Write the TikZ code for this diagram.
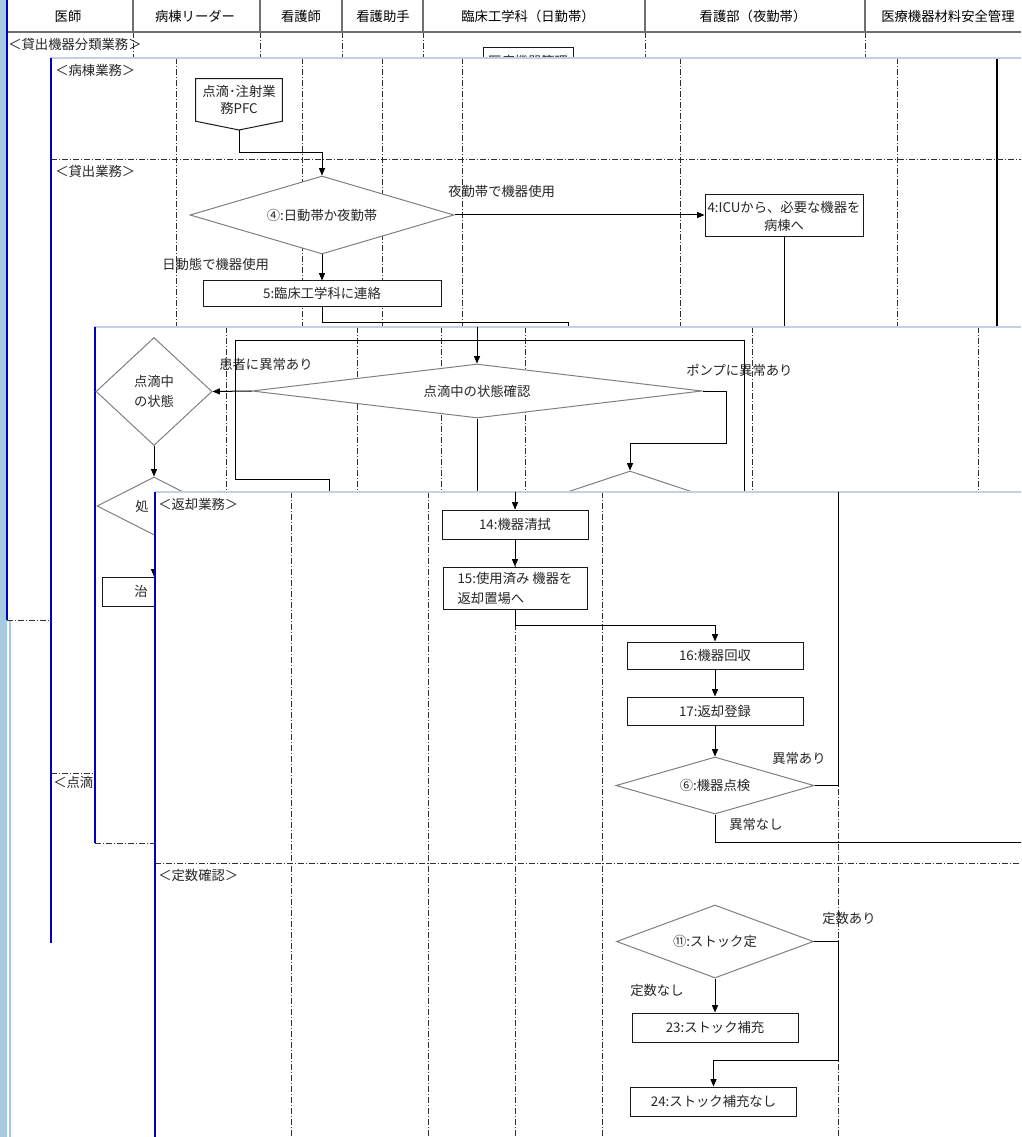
\documentclass[tikz,border=0pt]{standalone}
\usepackage{fontspec}
\setmainfont{Noto Sans CJK JP}
\usetikzlibrary{shapes.geometric,arrows.meta,calc}
\definecolor{txt}{HTML}{262626}
\definecolor{lanec}{HTML}{303030}
\definecolor{diac}{HTML}{808080}
\definecolor{boxc}{HTML}{1A1A1A}
\definecolor{wtopc}{HTML}{C4D0E4}
\definecolor{wblue}{HTML}{0000C0}
\definecolor{hdrc}{HTML}{707070}
\definecolor{lblue}{HTML}{A6CAE0}
\begin{document}
\begin{tikzpicture}[x=0.75pt,y=-0.75pt,
  font=\fontsize{10pt}{13.5pt}\selectfont,
  every node/.style={text=txt},
  lane/.style={draw=lanec, line width=0.75pt, dash pattern=on 4.5pt off 1.5pt on 0.75pt off 1.5pt},
  hdrsep/.style={draw=hdrc, line width=0.8pt},
  hdrline/.style={draw=hdrc, line width=1.6pt},
  wtop/.style={draw=wtopc, line width=0.8pt},
  wleft/.style={draw=wblue, line width=0.9pt},
  conn/.style={draw=black, line width=0.75pt},
  arr/.style={conn, -{Triangle[length=5.5pt,width=4.5pt]}},
  bx/.style 2 args={draw=boxc, fill=white, line width=0.75pt, inner sep=1pt, align=center,
    minimum width=#1*0.75pt, minimum height=#2*0.75pt},
  dia/.style n args={3}{diamond, draw=diac, fill=white, line width=0.75pt, inner sep=0pt, align=center,
    aspect=#3, minimum width=#1*0.75pt, minimum height=#2*0.75pt},
  lbl/.style={anchor=west, inner sep=0pt},
  hdr/.style={inner sep=0pt, text=black}
]
\useasboundingbox (0,0) rectangle (1021,1137);
\clip (0,0) rectangle (1021,1137);
\fill[white] (0,0) rectangle (1021,1137);
\fill[lblue] (0,0) rectangle (7,1137);
\fill[lblue] (9,620) rectangle (11,1137);

% ---------------- window 1 ----------------
\foreach \x in {133,260,342,423,645,865} {
  \draw[hdrsep] (\x,0) -- (\x,32);
  \draw[lane] (\x,32) -- (\x,620);
}
\draw[hdrline] (7,32) -- (1021,32);
\node[hdr] (h1) at (68,16) {医師};
\node[hdr] (h2) at (195,16) {病棟リーダー};
\node[hdr] (h3) at (301,16) {看護師};
\node[hdr] (h4) at (383,16) {看護助手};
\node[hdr] (h5) at (528,16) {臨床工学科（日勤帯）};
\node[hdr] (h6) at (753,16) {看護部（夜勤帯）};
\node[hdr, anchor=west] (h7) at (881,16) {医療機器材料安全管理};
\node[lbl] (w1lab) at (8,44) {＜貸出機器分類業務＞};
\node[bx={90}{26}] (mgmt) at (528,61) {医療機器管理};
\draw[wleft] (7,0) -- (7,620);
\draw[lane] (7,620) -- (50,620);

% ---------------- window 2 ----------------
\fill[white] (51,58) rectangle (1021,943);
\foreach \x in {176,302,382,462,680,897} \draw[lane] (\x,58) -- (\x,943);
\draw[conn, line width=1pt] (997,58) -- (997,943);
\draw[lane] (51,160) -- (1021,160);
\draw[lane] (51,773) -- (1021,773);
\draw[wtop] (50,58) -- (1021,58);
\draw[wleft] (51,58) -- (51,943);
\node[lbl] (w2lab1) at (55,70) {＜病棟業務＞};
\node[lbl] (w2lab2) at (55,171) {＜貸出業務＞};
\node[lbl] (w2lab3) at (53,782) {＜点滴};

\node[align=center, inner sep=0pt, minimum width=86*0.75pt, minimum height=42*0.75pt,
  font=\fontsize{10pt}{12.75pt}\selectfont] (pfc) at (239,100) {点滴･注射業\\務PFC};
\coordinate (pfctip) at (239,130);
\draw[draw=boxc, line width=0.75pt] (pfc.north west) -- (pfc.north east) -- (pfc.south east)
  -- (pfctip) -- (pfc.south west) -- cycle;

\node[dia={264}{78}{3.4}] (d4) at (322,215) {④:日動帯か夜勤帯};
\node[bx={158}{42}] (b4) at (784,216) {4:ICUから、必要な機器を\\病棟へ};
\node[bx={238}{25}] (b5) at (322,293.5) {5:臨床工学科に連絡};
\node[lbl] (l1) at (448,191) {夜勤帯で機器使用};
\node[lbl] (l2) at (162,264) {日動態で機器使用};

\coordinate (w3a) at (784,327);
\coordinate (w3b) at (568,327);
\draw[arr] (pfctip) -- ++(0,23) -| (d4.north);
\draw[arr] (d4.east) -- (d4.east -| b4.west);
\draw[conn] (b4.south) -- (w3a);
\draw[arr] (d4.south) -- (b5.north);
\draw[conn] (b5.south) -- ++(0,16) -| (w3b);

% ---------------- window 3 ----------------
\fill[white] (95,327) rectangle (1021,843);
\foreach \x in {226,357,441,525,752,978} \draw[lane] (\x,327) -- (\x,843);
\draw[lane] (95,843) -- (1021,843);
\draw[wtop] (94,327) -- (1021,327);
\draw[wleft] (95,327) -- (95,843);

\coordinate (loopA) at (329,492);
\coordinate (loopB) at (744,492);
\draw[conn] (loopA) -- (329,479) -- (235,479) -- (235,340) -- (744,340) -- (loopB);

\node[dia={450}{54}{8.3}] (dC) at (477,391) {点滴中の状態確認};
\node[dia={116}{108}{1}, font=\fontsize{10pt}{14.5pt}\selectfont] (dS) at (154,391.5) {点滴中\\の状態};
\node[dia={114}{58}{2}] (dT) at (154,506) {};
\node[hdr, text=txt] (tT) at (142,506) {処};
\node[bx={104}{29}] (bT) at (154,591.5) {};
\node[hdr, text=txt] (tB) at (141,591.5) {治};
\node[dia={180}{60}{3}] (dP) at (630,501) {};
\node[lbl] (l3) at (219,364) {患者に異常あり};
\node[lbl] (l4) at (686,370) {ポンプに異常あり};
\node[lbl] (l5) at (216,497) {処置なし};

\coordinate (cin) at (477,327);
\coordinate (cout) at (477,492);
\coordinate (pj) at (726,443);
\draw[arr] (cin) -- (dC.north);
\draw[arr] (dC.west) -- (dS.east);
\draw[arr] (dS.south) -- (dT.north);
\draw[arr] (dT.south) -- (bT.north);
\draw[arr] (dC.east) -| (pj) -| (dP.north);
\draw[conn] (dC.south) -- (cout);

% ---------------- window 4 ----------------
\fill[white] (155,492) rectangle (1021,1137);
\foreach \x in {291,428,515,602,838} \draw[lane] (\x,492) -- (\x,1137);
\draw[lane] (155,863) -- (1021,863);
\draw[wtop] (155,492) -- (1021,492);
\draw[wleft] (155,492) -- (155,1137);
\node[lbl] (w4lab1) at (158,504) {＜返却業務＞};
\node[lbl] (w4lab2) at (158,875) {＜定数確認＞};

\node[bx={146}{29}] (b14) at (515,524.5) {14:機器清拭};
\node[bx={144}{42}, align=left, font=\fontsize{10pt}{15pt}\selectfont] (b15) at (515,588) {15:使用済み 機器を\\返却置場へ};
\node[bx={176}{27}] (b16) at (715,655.5) {16:機器回収};
\node[bx={176}{28}] (b17) at (715,711) {17:返却登録};
\node[dia={198}{57}{3.5}] (d6) at (715,785.5) {⑥:機器点検};
\node[dia={197}{73}{2.7}] (d11) at (715,941.5) {⑪:ストック定};
\node[bx={166}{29}] (b23) at (715,1027.5) {23:ストック補充};
\node[bx={166}{29}] (b24) at (713.5,1101.5) {24:ストック補充なし};
\node[lbl] (l6) at (772,758) {異常あり};
\node[lbl] (l7) at (729,824) {異常なし};
\node[lbl] (l8) at (822,918) {定数あり};
\node[lbl] (l9) at (630,990) {定数なし};

\coordinate (w4in) at (515,492);
\coordinate (d6up) at (838,492);
\coordinate (d6out) at (1021,842);
\coordinate (sj) at (838,1060);
\draw[arr] (w4in) -- (b14.north);
\draw[arr] (b14.south) -- (b15.north);
\draw[arr] (b15.south) -- ++(0,16) -| (b16.north);
\draw[arr] (b16.south) -- (b17.north);
\draw[arr] (b17.south) -- (d6.north);
\draw[conn] (d6.east) -| (d6up);
\draw[conn] (d6.south) |- (d6out);
\draw[arr] (d11.south) -- (b23.north);
\draw[arr] (d11.east) -| (sj) -| (b24.north);
\end{tikzpicture}
\end{document}
